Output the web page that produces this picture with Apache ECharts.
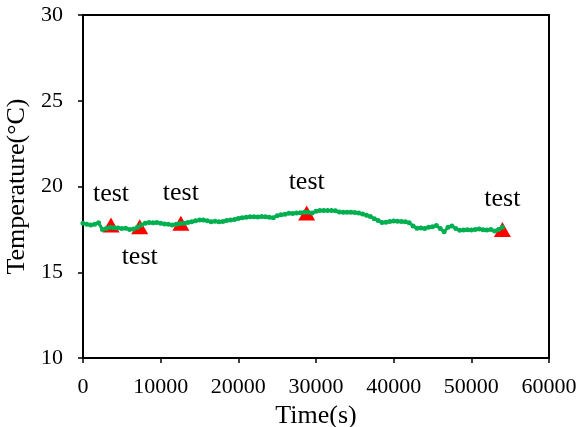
<!DOCTYPE html>
<html>
<head>
<meta charset="utf-8">
<script src="https://cdn.jsdelivr.net/npm/echarts@6/dist/echarts.min.js"></script>
<style>
  html, body { margin: 0; padding: 0; background: #fff; }
  #main { width: 580px; height: 427px; }
</style>
</head>
<body>
<div id="main"></div>
<script>
// measured temperature, one reading every 500 s
var timeSec = [];
for (var i = 0; i <= 108; i++) timeSec.push(i * 500);

var tempC = [
  17.85, 17.80, 17.75, 17.80, 17.88, 17.50, 17.55, 17.62, 17.60, 17.58,
  17.55, 17.56, 17.50, 17.52, 17.62, 17.75, 17.86, 17.90, 17.88, 17.90,
  17.86, 17.82, 17.80, 17.76, 17.80, 17.84, 17.86, 17.90, 17.95, 18.00,
  18.05, 18.05, 18.00, 17.95, 17.97, 17.95, 17.96, 18.02, 18.05, 18.08,
  18.14, 18.18, 18.20, 18.24, 18.24, 18.22, 18.25, 18.24, 18.20, 18.18,
  18.30, 18.36, 18.38, 18.44, 18.42, 18.46, 18.47, 18.50, 18.50, 18.46,
  18.55, 18.60, 18.60, 18.60, 18.60, 18.58, 18.52, 18.50, 18.50, 18.50,
  18.48, 18.45, 18.40, 18.32, 18.25, 18.12, 18.02, 17.90, 17.92, 17.96,
  17.99, 17.98, 17.96, 17.95, 17.88, 17.70, 17.56, 17.58, 17.55, 17.62,
  17.66, 17.72, 17.55, 17.36, 17.62, 17.70, 17.55, 17.45, 17.46, 17.48,
  17.46, 17.50, 17.52, 17.48, 17.46, 17.50, 17.40, 17.50, 17.62
];

// test points
var testTime = [3600, 7300, 12600, 28800, 54000];
var testTemp = [17.75, 17.65, 17.85, 18.45, 17.50];
var testName = ['test', 'test', 'test', 'test', 'test'];
var testLabelPos = ['top', 'bottom', 'top', 'top', 'top'];

var serif = "'Liberation Serif', 'Times New Roman', serif";

var lineData = timeSec.map(function (t, i) { return [t, tempC[i]]; });
var testData = testTime.map(function (t, i) {
  return {
    value: [t, testTemp[i]],
    name: testName[i],
    label: { position: testLabelPos[i] }
  };
});

var chart = echarts.init(document.getElementById('main'));
chart.setOption({
  animation: false,
  backgroundColor: '#fff',
  grid: {
    left: 83, top: 15, right: 31, bottom: 69,
    containLabel: false, outerBoundsMode: 'none',
    show: true, borderColor: '#000', borderWidth: 2
  },
  xAxis: {
    type: 'value', min: 0, max: 60000, interval: 10000,
    name: 'Time(s)', nameLocation: 'middle', nameGap: 44,
    nameTextStyle: { fontFamily: serif, fontSize: 26, color: '#000' },
    axisLine: { lineStyle: { color: '#000', width: 2 } },
    axisTick: { show: true, length: 5, lineStyle: { color: '#000', width: 1.5 } },
    axisLabel: {
      fontFamily: serif, fontSize: 22, color: '#000', margin: 18,
      formatter: function (v) { return String(v); }
    },
    splitLine: { show: false }
  },
  yAxis: {
    type: 'value', min: 10, max: 30, interval: 5,
    name: 'Temperature(°C)', nameLocation: 'middle', nameGap: 50,
    nameTextStyle: { fontFamily: serif, fontSize: 26, color: '#000' },
    axisLine: { show: true, lineStyle: { color: '#000', width: 2 } },
    axisTick: { show: true, length: 5, lineStyle: { color: '#000', width: 1.5 } },
    axisLabel: { fontFamily: serif, fontSize: 22, color: '#000', margin: 20 },
    splitLine: { show: false }
  },
  series: [
    {
      type: 'scatter',
      data: testData,
      symbol: 'triangle',
      symbolSize: [17, 15],
      itemStyle: { color: '#ff0000', opacity: 1 },
      z: 2,
      label: {
        show: true,
        formatter: '{b}',
        distance: 10,
        fontFamily: serif,
        fontSize: 26,
        color: '#000'
      }
    },
    {
      type: 'line',
      data: lineData,
      symbol: 'circle',
      symbolSize: 5,
      showSymbol: true,
      lineStyle: { color: '#00b050', width: 3 },
      itemStyle: { color: '#00b050' },
      z: 3
    }
  ]
});
</script>
</body>
</html>
